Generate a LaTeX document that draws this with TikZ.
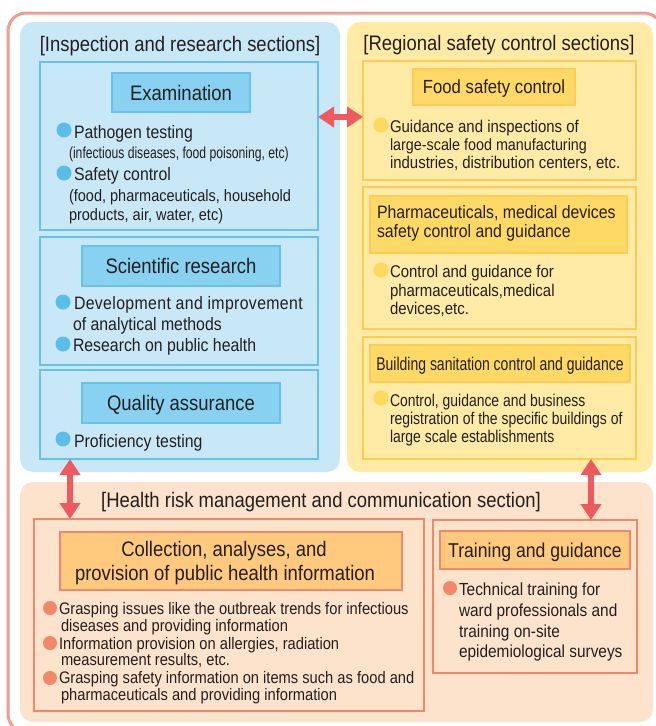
\documentclass[tikz,border=0pt]{standalone}
\usepackage{fontspec}
\setmainfont{Liberation Sans}[FakeStretch=0.88]
\newfontfamily\condfont{Liberation Sans}[FakeStretch=0.76]
\newfontfamily\semicond{Liberation Sans}[FakeStretch=0.82]
\usetikzlibrary{arrows.meta}
\definecolor{frameC}{HTML}{F39C96}
\definecolor{blueP}{HTML}{C8E8F8}
\definecolor{blueB}{HTML}{62C4EE}
\definecolor{blueH}{HTML}{88D1F1}
\definecolor{blueD}{HTML}{5BBDEA}
\definecolor{yelP}{HTML}{FFEBA6}
\definecolor{yelB}{HTML}{FFCB55}
\definecolor{yelH}{HTML}{FFD966}
\definecolor{yelD}{HTML}{FFD85E}
\definecolor{pchP}{HTML}{FDE3CB}
\definecolor{pchB}{HTML}{F3876A}
\definecolor{pchH}{HTML}{FFC97E}
\definecolor{pchD}{HTML}{F2876A}
\definecolor{arrC}{HTML}{EE5A5E}
\definecolor{txtC}{HTML}{231F20}
\begin{document}
\begin{tikzpicture}[x=1pt,y=-1pt,
  every node/.style={inner sep=0pt,outer sep=0pt,text=txtC},
  panel/.style={anchor=north west,rounded corners=13pt},
  sbox/.style={anchor=north west,line width=2.5pt},
  bbox/.style={sbox,draw=blueB,fill=blueP},
  ybox/.style={sbox,draw=yelB,fill=yelP},
  pbox/.style={sbox,draw=pchB,fill=pchP},
  hd/.style={anchor=north west,line width=2pt,font=\fontsize{21}{24}\selectfont,text height=15pt,text depth=0pt},
  bhd/.style={hd,draw=blueB,fill=blueH},
  yhd/.style={hd,draw=yelB,fill=yelH,font=\fontsize{19}{22}\selectfont,text height=13.6pt},
  phd/.style={hd,draw=pchB,fill=pchH},
  ttl/.style={anchor=base,font=\fontsize{21}{24}\selectfont},
  bul/.style={circle,minimum size=15pt},
  bbul/.style={bul,fill=blueD},
  ybul/.style={bul,fill=yelD},
  pbul/.style={bul,fill=pchD,minimum size=14pt},
  tx/.style={anchor=base west},
  btx/.style={tx,font=\fontsize{18}{20}\selectfont},
  bstx/.style={tx,font=\fontsize{16.5}{20}\selectfont},
  ytx/.style={tx,font=\fontsize{17}{19}\selectfont},
  yctx/.style={tx,font=\semicond\fontsize{17}{19}\selectfont},
  ptx/.style={tx,font=\fontsize{16.7}{18}\selectfont},
  ttx/.style={tx,font=\fontsize{17.5}{20}\selectfont},
  dbl/.style={draw=arrC,line width=6pt,{Triangle[length=16pt,width=20pt]}-{Triangle[length=16pt,width=20pt]}},
]
\useasboundingbox (0,0) rectangle (656,726);
\fill[white] (0,0) rectangle (656,726);
\node[draw=frameC,line width=3pt,rounded corners=18pt,anchor=north west,minimum width=654pt,minimum height=719pt] (frame) at (8,13) {};

% ---------- blue panel ----------
\node[panel,fill=blueP,minimum width=320pt,minimum height=450pt] (bluepanel) at (20,22) {};
\node[ttl] (bluetitle) at (180,51) {[Inspection and research sections]};

\node[bbox,minimum width=278pt,minimum height=168pt] (ex) at (40,62) {};
\node[bhd,minimum width=138pt,minimum height=39pt] (exhead) at (112,73) {Examination};
\node[bbul] (exb1) at (64,130) {};
\node[btx] (ext1) at (74,138) {Pathogen testing};
\node[tx,font=\condfont\fontsize{16}{18}\selectfont] (ext2) at (69,158) {(infectious diseases, food poisoning, etc)};
\node[bbul] (exb2) at (64,173) {};
\node[btx] (ext3) at (74,180) {Safety control};
\node[bstx] (ext4) at (69,201) {(food, pharmaceuticals, household};
\node[bstx] (ext5) at (69,220) {products, air, water, etc)};

\node[bbox,minimum width=278pt,minimum height=128pt] (sr) at (40,237) {};
\node[bhd,minimum width=198pt,minimum height=40pt] (srhead) at (82,246) {Scientific research};
\node[bbul] (srb1) at (63,302) {};
\node[btx,font=\fontsize{18}{20}\selectfont\addfontfeatures{LetterSpace=2}] (srt1) at (74,309) {Development and improvement};
\node[btx] (srt2) at (73,330) {of analytical methods};
\node[bbul] (srb2) at (63,344) {};
\node[btx] (srt3) at (73,351) {Research on public health};

\node[bbox,minimum width=278pt,minimum height=89pt] (qa) at (40,370) {};
\node[bhd,minimum width=198pt,minimum height=40pt] (qahead) at (82,383) {Quality assurance};
\node[bbul] (qab1) at (63,439) {};
\node[btx] (qat1) at (74,447) {Proficiency testing};

% ---------- yellow panel ----------
\node[panel,fill=yelP,minimum width=306pt,minimum height=450pt] (yelpanel) at (347,22) {};
\node[ttl] (yeltitle) at (499,50) {[Regional safety control sections]};

\node[ybox,minimum width=273pt,minimum height=119pt] (food) at (363,61) {};
\node[yhd,minimum width=162pt,minimum height=36pt] (foodhead) at (413,69) {Food safety control};
\node[ybul] (foodb1) at (381,125) {};
\node[ytx] (foodt1) at (390,132) {Guidance and inspections of};
\node[ytx,font=\fontsize{16.3}{19}\selectfont] (foodt2) at (390,150) {large-scale food manufacturing};
\node[ytx] (foodt3) at (390,168) {industries, distribution centers, etc.};

\node[ybox,minimum width=273pt,minimum height=142pt] (ph) at (363,187) {};
\node[yhd,minimum width=257pt,minimum height=57pt] (phhead) at (370,196) {};
\node[tx,font=\fontsize{18}{20}\selectfont] (phh1) at (377,218) {Pharmaceuticals, medical devices};
\node[tx,font=\fontsize{18}{20}\selectfont] (phh2) at (377,237) {safety control and guidance};
\node[ybul] (phb1) at (381,270) {};
\node[ytx] (pht1) at (390,277) {Control and guidance for};
\node[ytx] (pht2) at (390,296) {pharmaceuticals,medical};
\node[ytx] (pht3) at (390,314) {devices,etc.};

\node[ybox,minimum width=273pt,minimum height=122pt] (bld) at (363,337) {};
\node[yhd,minimum width=260pt,minimum height=37pt,font=\condfont\fontsize{18.4}{20}\selectfont,text height=13.2pt] (bldhead) at (370,345) {Building sanitation control and guidance};
\node[ybul] (bldb1) at (381,398) {};
\node[yctx] (bldt1) at (390,406) {Control, guidance and business};
\node[yctx] (bldt2) at (390,424) {registration of the specific buildings of};
\node[yctx] (bldt3) at (390,442) {large scale establishments};

% ---------- peach panel ----------
\node[panel,fill=pchP,minimum width=633pt,minimum height=240pt] (pchpanel) at (20,482) {};
\node[ttl] (pchtitle) at (321,507) {[Health risk management and communication section]};

\node[pbox,minimum width=390pt,minimum height=192pt] (coll) at (34,519) {};
\node[phd,minimum width=342pt,minimum height=58pt] (collhead) at (60,532) {};
\node[anchor=base,font=\fontsize{21}{24}\selectfont] (collh1) at (224,556) {Collection, analyses, and};
\node[anchor=base,font=\fontsize{21}{24}\selectfont] (collh2) at (225,580) {provision of public health information};
\node[pbul] (collb1) at (50,608) {};
\node[ptx] (collt1) at (59,614) {Grasping issues like the outbreak trends for infectious};
\node[ptx] (collt2) at (61,631) {diseases and providing information};
\node[pbul] (collb2) at (50,643) {};
\node[ptx] (collt3) at (59,649) {Information provision on allergies, radiation};
\node[ptx] (collt4) at (61,665) {measurement results, etc.};
\node[pbul] (collb3) at (50,678) {};
\node[ptx] (collt5) at (59,683) {Grasping safety information on items such as food and};
\node[ptx] (collt6) at (61,700) {pharmaceuticals and providing information};

\node[pbox,minimum width=204pt,minimum height=153pt] (train) at (433,520) {};
\node[phd,minimum width=190pt,minimum height=38pt,font=\fontsize{20}{23}\selectfont,text height=14.3pt] (trainhead) at (440,531) {Training and guidance};
\node[pbul] (trainb1) at (450,588) {};
\node[ttx] (traint1) at (459,595) {Technical training for};
\node[ttx] (traint2) at (459,616) {ward professionals and};
\node[ttx] (traint3) at (459,637) {training on-site};
\node[ttx] (traint4) at (459,657) {epidemiological surveys};

% ---------- arrows ----------
\coordinate (harr) at ([yshift=3.5pt]food.west);
\draw[dbl] (ex.east |- harr) -- (harr);
\coordinate (larr) at ([xshift=30pt]qa.south west);
\draw[dbl] (larr) -- (larr |- coll.north);
\coordinate (rarr) at ([xshift=-45pt]bld.south east);
\draw[dbl] (rarr) -- (rarr |- train.north);
\end{tikzpicture}
\end{document}
